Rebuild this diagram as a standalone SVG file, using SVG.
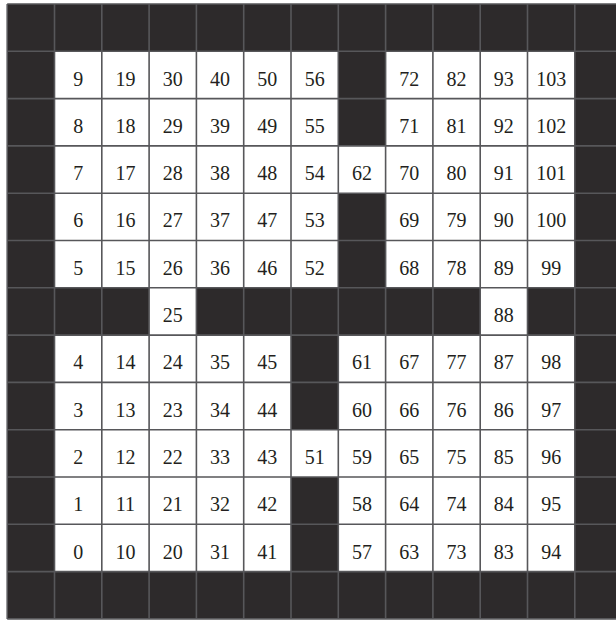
<svg xmlns="http://www.w3.org/2000/svg" width="616" height="620" viewBox="0 0 616 620">
<style>
.bg{fill:#2d2a2b}
.w{fill:#ffffff}
.grid{fill:none;stroke:#57575a;stroke-width:1.6}
text{font-family:"Liberation Serif","Times New Roman",serif;font-size:20px;fill:#231f20;text-anchor:middle}
</style>
<rect width="616" height="620" fill="#ffffff"/>
<rect class="bg" x="7.2" y="4" width="614.9" height="614.9"/>
<g id="cells">
<!-- row 1 -->
<g id="n9" transform="translate(54.5,51.3)"><rect class="w" width="47.3" height="47.3"/><text x="23.65" y="34.3">9</text></g>
<g id="n19" transform="translate(101.8,51.3)"><rect class="w" width="47.3" height="47.3"/><text x="23.65" y="34.3">19</text></g>
<g id="n30" transform="translate(149.1,51.3)"><rect class="w" width="47.3" height="47.3"/><text x="23.65" y="34.3">30</text></g>
<g id="n40" transform="translate(196.4,51.3)"><rect class="w" width="47.3" height="47.3"/><text x="23.65" y="34.3">40</text></g>
<g id="n50" transform="translate(243.7,51.3)"><rect class="w" width="47.3" height="47.3"/><text x="23.65" y="34.3">50</text></g>
<g id="n56" transform="translate(291,51.3)"><rect class="w" width="47.3" height="47.3"/><text x="23.65" y="34.3">56</text></g>
<g id="n72" transform="translate(385.6,51.3)"><rect class="w" width="47.3" height="47.3"/><text x="23.65" y="34.3">72</text></g>
<g id="n82" transform="translate(432.9,51.3)"><rect class="w" width="47.3" height="47.3"/><text x="23.65" y="34.3">82</text></g>
<g id="n93" transform="translate(480.2,51.3)"><rect class="w" width="47.3" height="47.3"/><text x="23.65" y="34.3">93</text></g>
<g id="n103" transform="translate(527.5,51.3)"><rect class="w" width="47.3" height="47.3"/><text x="23.65" y="34.3">103</text></g>
<!-- row 2 -->
<g id="n8" transform="translate(54.5,98.6)"><rect class="w" width="47.3" height="47.3"/><text x="23.65" y="34.3">8</text></g>
<g id="n18" transform="translate(101.8,98.6)"><rect class="w" width="47.3" height="47.3"/><text x="23.65" y="34.3">18</text></g>
<g id="n29" transform="translate(149.1,98.6)"><rect class="w" width="47.3" height="47.3"/><text x="23.65" y="34.3">29</text></g>
<g id="n39" transform="translate(196.4,98.6)"><rect class="w" width="47.3" height="47.3"/><text x="23.65" y="34.3">39</text></g>
<g id="n49" transform="translate(243.7,98.6)"><rect class="w" width="47.3" height="47.3"/><text x="23.65" y="34.3">49</text></g>
<g id="n55" transform="translate(291,98.6)"><rect class="w" width="47.3" height="47.3"/><text x="23.65" y="34.3">55</text></g>
<g id="n71" transform="translate(385.6,98.6)"><rect class="w" width="47.3" height="47.3"/><text x="23.65" y="34.3">71</text></g>
<g id="n81" transform="translate(432.9,98.6)"><rect class="w" width="47.3" height="47.3"/><text x="23.65" y="34.3">81</text></g>
<g id="n92" transform="translate(480.2,98.6)"><rect class="w" width="47.3" height="47.3"/><text x="23.65" y="34.3">92</text></g>
<g id="n102" transform="translate(527.5,98.6)"><rect class="w" width="47.3" height="47.3"/><text x="23.65" y="34.3">102</text></g>
<!-- row 3 -->
<g id="n7" transform="translate(54.5,145.9)"><rect class="w" width="47.3" height="47.3"/><text x="23.65" y="34.3">7</text></g>
<g id="n17" transform="translate(101.8,145.9)"><rect class="w" width="47.3" height="47.3"/><text x="23.65" y="34.3">17</text></g>
<g id="n28" transform="translate(149.1,145.9)"><rect class="w" width="47.3" height="47.3"/><text x="23.65" y="34.3">28</text></g>
<g id="n38" transform="translate(196.4,145.9)"><rect class="w" width="47.3" height="47.3"/><text x="23.65" y="34.3">38</text></g>
<g id="n48" transform="translate(243.7,145.9)"><rect class="w" width="47.3" height="47.3"/><text x="23.65" y="34.3">48</text></g>
<g id="n54" transform="translate(291,145.9)"><rect class="w" width="47.3" height="47.3"/><text x="23.65" y="34.3">54</text></g>
<g id="n62" transform="translate(338.3,145.9)"><rect class="w" width="47.3" height="47.3"/><text x="23.65" y="34.3">62</text></g>
<g id="n70" transform="translate(385.6,145.9)"><rect class="w" width="47.3" height="47.3"/><text x="23.65" y="34.3">70</text></g>
<g id="n80" transform="translate(432.9,145.9)"><rect class="w" width="47.3" height="47.3"/><text x="23.65" y="34.3">80</text></g>
<g id="n91" transform="translate(480.2,145.9)"><rect class="w" width="47.3" height="47.3"/><text x="23.65" y="34.3">91</text></g>
<g id="n101" transform="translate(527.5,145.9)"><rect class="w" width="47.3" height="47.3"/><text x="23.65" y="34.3">101</text></g>
<!-- row 4 -->
<g id="n6" transform="translate(54.5,193.2)"><rect class="w" width="47.3" height="47.3"/><text x="23.65" y="34.3">6</text></g>
<g id="n16" transform="translate(101.8,193.2)"><rect class="w" width="47.3" height="47.3"/><text x="23.65" y="34.3">16</text></g>
<g id="n27" transform="translate(149.1,193.2)"><rect class="w" width="47.3" height="47.3"/><text x="23.65" y="34.3">27</text></g>
<g id="n37" transform="translate(196.4,193.2)"><rect class="w" width="47.3" height="47.3"/><text x="23.65" y="34.3">37</text></g>
<g id="n47" transform="translate(243.7,193.2)"><rect class="w" width="47.3" height="47.3"/><text x="23.65" y="34.3">47</text></g>
<g id="n53" transform="translate(291,193.2)"><rect class="w" width="47.3" height="47.3"/><text x="23.65" y="34.3">53</text></g>
<g id="n69" transform="translate(385.6,193.2)"><rect class="w" width="47.3" height="47.3"/><text x="23.65" y="34.3">69</text></g>
<g id="n79" transform="translate(432.9,193.2)"><rect class="w" width="47.3" height="47.3"/><text x="23.65" y="34.3">79</text></g>
<g id="n90" transform="translate(480.2,193.2)"><rect class="w" width="47.3" height="47.3"/><text x="23.65" y="34.3">90</text></g>
<g id="n100" transform="translate(527.5,193.2)"><rect class="w" width="47.3" height="47.3"/><text x="23.65" y="34.3">100</text></g>
<!-- row 5 -->
<g id="n5" transform="translate(54.5,240.5)"><rect class="w" width="47.3" height="47.3"/><text x="23.65" y="34.3">5</text></g>
<g id="n15" transform="translate(101.8,240.5)"><rect class="w" width="47.3" height="47.3"/><text x="23.65" y="34.3">15</text></g>
<g id="n26" transform="translate(149.1,240.5)"><rect class="w" width="47.3" height="47.3"/><text x="23.65" y="34.3">26</text></g>
<g id="n36" transform="translate(196.4,240.5)"><rect class="w" width="47.3" height="47.3"/><text x="23.65" y="34.3">36</text></g>
<g id="n46" transform="translate(243.7,240.5)"><rect class="w" width="47.3" height="47.3"/><text x="23.65" y="34.3">46</text></g>
<g id="n52" transform="translate(291,240.5)"><rect class="w" width="47.3" height="47.3"/><text x="23.65" y="34.3">52</text></g>
<g id="n68" transform="translate(385.6,240.5)"><rect class="w" width="47.3" height="47.3"/><text x="23.65" y="34.3">68</text></g>
<g id="n78" transform="translate(432.9,240.5)"><rect class="w" width="47.3" height="47.3"/><text x="23.65" y="34.3">78</text></g>
<g id="n89" transform="translate(480.2,240.5)"><rect class="w" width="47.3" height="47.3"/><text x="23.65" y="34.3">89</text></g>
<g id="n99" transform="translate(527.5,240.5)"><rect class="w" width="47.3" height="47.3"/><text x="23.65" y="34.3">99</text></g>
<!-- row 6 -->
<g id="n25" transform="translate(149.1,287.8)"><rect class="w" width="47.3" height="47.3"/><text x="23.65" y="34.3">25</text></g>
<g id="n88" transform="translate(480.2,287.8)"><rect class="w" width="47.3" height="47.3"/><text x="23.65" y="34.3">88</text></g>
<!-- row 7 -->
<g id="n4" transform="translate(54.5,335.1)"><rect class="w" width="47.3" height="47.3"/><text x="23.65" y="34.3">4</text></g>
<g id="n14" transform="translate(101.8,335.1)"><rect class="w" width="47.3" height="47.3"/><text x="23.65" y="34.3">14</text></g>
<g id="n24" transform="translate(149.1,335.1)"><rect class="w" width="47.3" height="47.3"/><text x="23.65" y="34.3">24</text></g>
<g id="n35" transform="translate(196.4,335.1)"><rect class="w" width="47.3" height="47.3"/><text x="23.65" y="34.3">35</text></g>
<g id="n45" transform="translate(243.7,335.1)"><rect class="w" width="47.3" height="47.3"/><text x="23.65" y="34.3">45</text></g>
<g id="n61" transform="translate(338.3,335.1)"><rect class="w" width="47.3" height="47.3"/><text x="23.65" y="34.3">61</text></g>
<g id="n67" transform="translate(385.6,335.1)"><rect class="w" width="47.3" height="47.3"/><text x="23.65" y="34.3">67</text></g>
<g id="n77" transform="translate(432.9,335.1)"><rect class="w" width="47.3" height="47.3"/><text x="23.65" y="34.3">77</text></g>
<g id="n87" transform="translate(480.2,335.1)"><rect class="w" width="47.3" height="47.3"/><text x="23.65" y="34.3">87</text></g>
<g id="n98" transform="translate(527.5,335.1)"><rect class="w" width="47.3" height="47.3"/><text x="23.65" y="34.3">98</text></g>
<!-- row 8 -->
<g id="n3" transform="translate(54.5,382.4)"><rect class="w" width="47.3" height="47.3"/><text x="23.65" y="34.3">3</text></g>
<g id="n13" transform="translate(101.8,382.4)"><rect class="w" width="47.3" height="47.3"/><text x="23.65" y="34.3">13</text></g>
<g id="n23" transform="translate(149.1,382.4)"><rect class="w" width="47.3" height="47.3"/><text x="23.65" y="34.3">23</text></g>
<g id="n34" transform="translate(196.4,382.4)"><rect class="w" width="47.3" height="47.3"/><text x="23.65" y="34.3">34</text></g>
<g id="n44" transform="translate(243.7,382.4)"><rect class="w" width="47.3" height="47.3"/><text x="23.65" y="34.3">44</text></g>
<g id="n60" transform="translate(338.3,382.4)"><rect class="w" width="47.3" height="47.3"/><text x="23.65" y="34.3">60</text></g>
<g id="n66" transform="translate(385.6,382.4)"><rect class="w" width="47.3" height="47.3"/><text x="23.65" y="34.3">66</text></g>
<g id="n76" transform="translate(432.9,382.4)"><rect class="w" width="47.3" height="47.3"/><text x="23.65" y="34.3">76</text></g>
<g id="n86" transform="translate(480.2,382.4)"><rect class="w" width="47.3" height="47.3"/><text x="23.65" y="34.3">86</text></g>
<g id="n97" transform="translate(527.5,382.4)"><rect class="w" width="47.3" height="47.3"/><text x="23.65" y="34.3">97</text></g>
<!-- row 9 -->
<g id="n2" transform="translate(54.5,429.7)"><rect class="w" width="47.3" height="47.3"/><text x="23.65" y="34.3">2</text></g>
<g id="n12" transform="translate(101.8,429.7)"><rect class="w" width="47.3" height="47.3"/><text x="23.65" y="34.3">12</text></g>
<g id="n22" transform="translate(149.1,429.7)"><rect class="w" width="47.3" height="47.3"/><text x="23.65" y="34.3">22</text></g>
<g id="n33" transform="translate(196.4,429.7)"><rect class="w" width="47.3" height="47.3"/><text x="23.65" y="34.3">33</text></g>
<g id="n43" transform="translate(243.7,429.7)"><rect class="w" width="47.3" height="47.3"/><text x="23.65" y="34.3">43</text></g>
<g id="n51" transform="translate(291,429.7)"><rect class="w" width="47.3" height="47.3"/><text x="23.65" y="34.3">51</text></g>
<g id="n59" transform="translate(338.3,429.7)"><rect class="w" width="47.3" height="47.3"/><text x="23.65" y="34.3">59</text></g>
<g id="n65" transform="translate(385.6,429.7)"><rect class="w" width="47.3" height="47.3"/><text x="23.65" y="34.3">65</text></g>
<g id="n75" transform="translate(432.9,429.7)"><rect class="w" width="47.3" height="47.3"/><text x="23.65" y="34.3">75</text></g>
<g id="n85" transform="translate(480.2,429.7)"><rect class="w" width="47.3" height="47.3"/><text x="23.65" y="34.3">85</text></g>
<g id="n96" transform="translate(527.5,429.7)"><rect class="w" width="47.3" height="47.3"/><text x="23.65" y="34.3">96</text></g>
<!-- row 10 -->
<g id="n1" transform="translate(54.5,477)"><rect class="w" width="47.3" height="47.3"/><text x="23.65" y="34.3">1</text></g>
<g id="n11" transform="translate(101.8,477)"><rect class="w" width="47.3" height="47.3"/><text x="23.65" y="34.3">11</text></g>
<g id="n21" transform="translate(149.1,477)"><rect class="w" width="47.3" height="47.3"/><text x="23.65" y="34.3">21</text></g>
<g id="n32" transform="translate(196.4,477)"><rect class="w" width="47.3" height="47.3"/><text x="23.65" y="34.3">32</text></g>
<g id="n42" transform="translate(243.7,477)"><rect class="w" width="47.3" height="47.3"/><text x="23.65" y="34.3">42</text></g>
<g id="n58" transform="translate(338.3,477)"><rect class="w" width="47.3" height="47.3"/><text x="23.65" y="34.3">58</text></g>
<g id="n64" transform="translate(385.6,477)"><rect class="w" width="47.3" height="47.3"/><text x="23.65" y="34.3">64</text></g>
<g id="n74" transform="translate(432.9,477)"><rect class="w" width="47.3" height="47.3"/><text x="23.65" y="34.3">74</text></g>
<g id="n84" transform="translate(480.2,477)"><rect class="w" width="47.3" height="47.3"/><text x="23.65" y="34.3">84</text></g>
<g id="n95" transform="translate(527.5,477)"><rect class="w" width="47.3" height="47.3"/><text x="23.65" y="34.3">95</text></g>
<!-- row 11 -->
<g id="n0" transform="translate(54.5,524.3)"><rect class="w" width="47.3" height="47.3"/><text x="23.65" y="34.3">0</text></g>
<g id="n10" transform="translate(101.8,524.3)"><rect class="w" width="47.3" height="47.3"/><text x="23.65" y="34.3">10</text></g>
<g id="n20" transform="translate(149.1,524.3)"><rect class="w" width="47.3" height="47.3"/><text x="23.65" y="34.3">20</text></g>
<g id="n31" transform="translate(196.4,524.3)"><rect class="w" width="47.3" height="47.3"/><text x="23.65" y="34.3">31</text></g>
<g id="n41" transform="translate(243.7,524.3)"><rect class="w" width="47.3" height="47.3"/><text x="23.65" y="34.3">41</text></g>
<g id="n57" transform="translate(338.3,524.3)"><rect class="w" width="47.3" height="47.3"/><text x="23.65" y="34.3">57</text></g>
<g id="n63" transform="translate(385.6,524.3)"><rect class="w" width="47.3" height="47.3"/><text x="23.65" y="34.3">63</text></g>
<g id="n73" transform="translate(432.9,524.3)"><rect class="w" width="47.3" height="47.3"/><text x="23.65" y="34.3">73</text></g>
<g id="n83" transform="translate(480.2,524.3)"><rect class="w" width="47.3" height="47.3"/><text x="23.65" y="34.3">83</text></g>
<g id="n94" transform="translate(527.5,524.3)"><rect class="w" width="47.3" height="47.3"/><text x="23.65" y="34.3">94</text></g>
</g>
<g id="connectors">
<path class="grid" d="M7.2 4V618.9M54.5 4V618.9M101.8 4V618.9M149.1 4V618.9M196.4 4V618.9M243.7 4V618.9M291 4V618.9M338.3 4V618.9M385.6 4V618.9M432.9 4V618.9M480.2 4V618.9M527.5 4V618.9M574.8 4V618.9M7.2 4H622.1M7.2 51.3H622.1M7.2 98.6H622.1M7.2 145.9H622.1M7.2 193.2H622.1M7.2 240.5H622.1M7.2 287.8H622.1M7.2 335.1H622.1M7.2 382.4H622.1M7.2 429.7H622.1M7.2 477H622.1M7.2 524.3H622.1M7.2 571.6H622.1M7.2 618.9H622.1"/>
</g>
</svg>
